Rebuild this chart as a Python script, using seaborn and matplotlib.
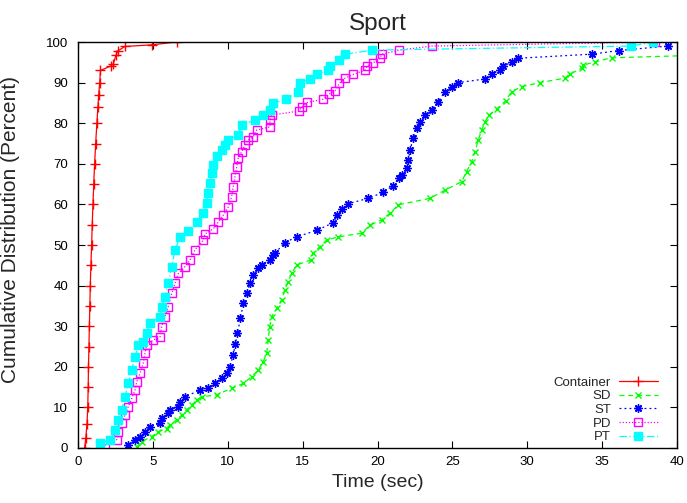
import numpy as np
import pandas as pd
import matplotlib
matplotlib.use("Agg")
import matplotlib.pyplot as plt
import seaborn as sns

# --- data (time in sec, cumulative percent) ---
cont_t = [0.44, 0.52, 0.60, 0.65, 0.68, 0.70, 0.73, 0.76, 0.79, 0.82, 0.86,
          0.91, 0.95, 1.00, 1.05, 1.11, 1.18, 1.26, 1.33, 1.38, 1.45, 1.50,
          2.20, 2.36, 2.54, 2.65, 3.14, 4.92, 6.59]
cont_p = [0, 2.5, 6, 10, 15, 20, 25, 30, 35, 40, 45,
          50, 55, 60, 65, 70, 75, 80, 84, 87, 90, 93,
          94.1, 94.6, 96.8, 97.8, 98.9, 99.3, 100]

sd_t = [3.92, 4.25, 4.92, 5.36, 5.92, 6.14, 6.59, 6.92, 7.26, 7.59, 7.92, 8.26,
        9.26, 10.26, 11.04, 11.60, 12.04, 12.37, 12.60, 12.70, 12.80, 12.93,
        13.27, 13.60, 13.82, 14.04, 14.27, 14.60, 15.55, 15.71, 16.16, 16.60,
        17.38, 18.94, 19.50, 20.28, 20.83, 21.39, 23.51, 24.51, 25.62, 25.95,
        26.29, 26.51, 26.73, 26.96, 27.18, 27.45, 27.96, 28.55, 28.96, 29.63,
        30.85, 32.52, 32.85, 33.63, 33.74, 34.52, 35.63, 42.0]
sd_p = [0.3, 1.6, 2.8, 4.0, 4.8, 5.7, 6.9, 8.1, 9.4, 10.6, 11.8, 12.6,
        13.1, 14.7, 15.9, 17.6, 19.2, 21.3, 23.3, 26.6, 29.9, 32.3,
        34.4, 36.5, 38.9, 41.0, 43.0, 45.1, 46.3, 48.0, 49.6, 51.2,
        52.0, 52.9, 54.9, 56.2, 57.8, 59.9, 61.5, 63.5, 65.6, 68.1,
        70.5, 73.0, 75.9, 78.3, 80.4, 82.0, 83.5, 85.5, 87.8, 89.0,
        90.0, 91.1, 92.1, 93.5, 94.3, 95.1, 96.1, 96.8]

st_t = [3.36, 3.81, 4.14, 4.47, 4.81, 5.48, 5.59, 6.03, 6.14, 6.70, 6.81, 7.15,
        8.15, 8.70, 9.15, 9.60, 9.93, 10.15, 10.37, 10.50, 10.65, 10.85, 11.04,
        11.27, 11.49, 11.71, 12.04, 12.26, 12.82, 13.00, 13.16, 13.82, 14.60,
        15.94, 17.05, 17.30, 17.65, 18.05, 19.39, 20.39, 21.03, 21.45, 21.61,
        21.95, 22.06, 22.17, 22.39, 22.62, 22.84, 23.17, 23.62, 24.06, 24.51,
        24.95, 25.40, 27.18, 27.62, 28.18, 28.40, 28.96, 29.40, 34.30, 36.13,
        39.38]
st_p = [0.7, 2.0, 2.8, 4.0, 5.2, 6.1, 7.3, 8.5, 9.4, 10.2, 11.4, 12.6,
        14.3, 14.7, 15.9, 17.2, 18.4, 20.0, 23.0, 25.5, 28.3, 32.0, 35.6,
        38.1, 40.6, 42.6, 44.3, 45.1, 46.3, 47.5, 48.0, 50.6, 52.0,
        53.6, 55.5, 57.4, 58.8, 60.2, 61.5, 63.0, 64.6, 66.5, 67.2,
        68.9, 70.9, 73.4, 76.3, 78.7, 80.4, 82.0, 83.3, 85.3, 87.8,
        89.0, 90.0, 90.9, 92.1, 93.1, 94.1, 95.0, 96.0, 97.0, 97.9,
        99.0]

pd_t = [1.80, 2.58, 2.69, 2.92, 3.14, 3.36, 3.59, 3.81, 3.92, 4.14, 4.36, 4.47,
        4.59, 5.03, 5.48, 5.59, 5.81, 6.03, 6.26, 6.48, 6.70, 7.15, 7.48, 7.81,
        8.37, 8.48, 9.04, 9.37, 9.71, 10.04, 10.26, 10.37, 10.48, 10.60, 10.70,
        10.93, 11.15, 11.37, 11.71, 11.93, 12.82, 12.82, 12.93, 14.76, 14.98,
        15.31, 16.38, 16.78, 17.16, 17.45, 17.83, 18.38, 19.17, 19.32, 19.72,
        20.17, 20.28, 21.46, 23.62, 38.50]
pd_p = [0.7, 2.0, 4.0, 6.1, 8.1, 10.2, 12.2, 14.3, 16.3, 18.4, 20.9, 23.3,
        25.4, 26.6, 27.4, 29.9, 32.3, 34.8, 38.1, 40.6, 43.0, 44.7, 46.3, 48.8,
        51.2, 52.7, 54.0, 55.7, 57.4, 59.4, 61.9, 64.4, 66.8, 69.3, 71.4,
        73.0, 74.6, 75.9, 76.7, 78.3, 79.1, 80.8, 82.0, 83.0, 84.1,
        85.1, 85.9, 87.2, 88.0, 89.8, 91.1, 92.0, 93.1, 94.1, 94.9,
        96.0, 97.0, 98.0, 99.0, 100.0]

pt_t = [1.47, 2.14, 2.47, 2.69, 2.92, 3.14, 3.36, 3.59, 3.81, 4.03, 4.36, 4.59,
        4.81, 5.48, 5.59, 5.81, 6.03, 6.26, 6.48, 6.81, 7.37, 7.92, 8.37, 8.59,
        8.70, 8.81, 8.93, 9.04, 9.26, 9.59, 9.82, 10.04, 10.70, 10.93, 11.82,
        12.37, 12.82, 13.04, 13.91, 14.71, 14.82, 15.49, 15.98, 16.67, 16.83,
        17.45, 17.83, 19.65, 36.90, 38.40]
pt_p = [1.2, 2.0, 4.4, 6.9, 9.4, 12.6, 15.9, 19.2, 22.5, 25.4, 26.2, 28.3,
        30.7, 32.3, 34.8, 37.3, 40.6, 44.7, 48.8, 52.0, 53.5, 55.7, 57.8, 60.3,
        62.7, 65.2, 67.7, 69.7, 71.8, 73.4, 74.6, 75.9, 77.1, 79.6, 80.8,
        82.0, 83.3, 84.9, 85.9, 87.8, 89.8, 91.0, 92.0, 93.1, 94.1,
        95.6, 97.0, 98.0, 99.0, 99.9]

labels = ["Container", "SD", "ST", "PD", "PT"]
series_t = [cont_t, sd_t, st_t, pd_t, pt_t]
series_p = [cont_p, sd_p, st_p, pd_p, pt_p]

# gnuplot-like styles
colors = ["#ff0000", "#00ff00", "#0000ff", "#ff00ff", "#00ffff"]
markers = ["+", "x", (8, 2, 0), "s", "s"]
dashes = ["-", (0, (4, 3)), (0, (1.5, 2.5)), (0, (1, 1.5)), (0, (6, 2, 1, 2))]
msizes = [6.5, 5, 6, 5.5, 6]
filled = [True, True, True, False, True]

sns.set_style("ticks")
plt.rcParams["font.family"] = ["Liberation Sans", "DejaVu Sans"]

fig = plt.figure(figsize=(6.87, 5.03), dpi=100)
ax = fig.add_axes([78 / 687, 1 - 448 / 503, (677 - 78) / 687, (448 - 42) / 503])

for lab, t, p, c, m, ls, ms, f in zip(labels, series_t, series_p, colors,
                                       markers, dashes, msizes, filled):
    df = pd.DataFrame({"t": t, "p": p})
    sns.lineplot(data=df, x="t", y="p", ax=ax, color=c, marker=m,
                 linestyle=ls, linewidth=0.9, markersize=ms,
                 markeredgewidth=1.0, markeredgecolor=c,
                 markerfacecolor=c if f else "none",
                 estimator=None, sort=False, label=lab)

ax.set_xlim(0, 40)
ax.set_ylim(0, 100)
ax.set_xticks(np.arange(0, 41, 5))
ax.set_yticks(np.arange(0, 101, 10))
ax.tick_params(direction="in", top=True, right=True, length=5, width=0.8,
               labelsize=9.5, colors="black")
ax.tick_params(axis="y", pad=7)
ax.tick_params(axis="x", pad=6)
for s in ax.spines.values():
    s.set_visible(True)
    s.set_linewidth(1.0)
    s.set_color("black")

ax.set_title("Sport", fontsize=17.5, pad=9)
ax.set_xlabel("Time (sec)", fontsize=14, labelpad=4)
ax.set_ylabel("Cumulative Distribution (Percent)", fontsize=15)
ax.yaxis.set_label_coords(-0.097, 0.537)

ax.legend(loc="lower right", bbox_to_anchor=(0.968, 0.012), frameon=False,
          markerfirst=False, fontsize=9.5, handlelength=2.95,
          handletextpad=0.6, labelspacing=0.1, borderpad=0,
          borderaxespad=0)

fig.savefig("out.png", dpi=100)
